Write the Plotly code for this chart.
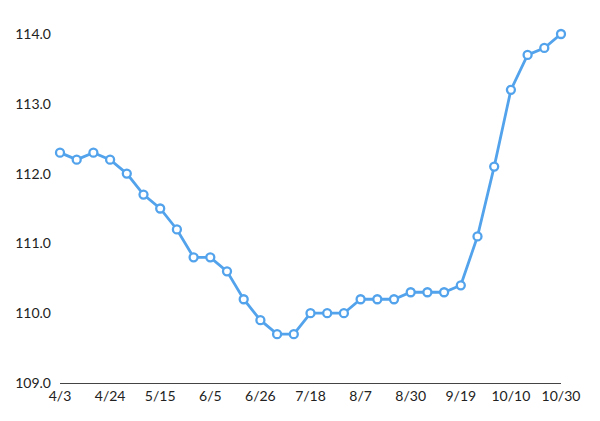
import plotly.graph_objects as go

dates = ["4/3", "4/10", "4/17", "4/24", "5/1", "5/8", "5/15", "5/22", "5/29", "6/5",
         "6/12", "6/19", "6/26", "7/3", "7/10", "7/18", "7/24", "7/31", "8/7", "8/14",
         "8/21", "8/30", "9/5", "9/12", "9/19", "9/26", "10/3", "10/10", "10/17", "10/24", "10/30"]
values = [112.3, 112.2, 112.3, 112.2, 112.0, 111.7, 111.5, 111.2, 110.8, 110.8,
          110.6, 110.2, 109.9, 109.7, 109.7, 110.0, 110.0, 110.0, 110.2, 110.2,
          110.2, 110.3, 110.3, 110.3, 110.4, 111.1, 112.1, 113.2, 113.7, 113.8, 114.0]
tick_labels = ["4/3", "4/24", "5/15", "6/5", "6/26", "7/18", "8/7", "8/30", "9/19", "10/10", "10/30"]
y_ticks = [109.0, 110.0, 111.0, 112.0, 113.0, 114.0]

fig = go.Figure()
fig.add_trace(go.Scatter(
    x=dates, y=values, mode="lines+markers",
    line=dict(color="#52a3ec", width=2.8),
    marker=dict(size=8, color="white", line=dict(color="#52a3ec", width=2.3)),
    cliponaxis=False, hoverinfo="x+y"
))

fig.update_layout(
    width=600, height=421,
    margin=dict(l=52, r=47, t=26, b=46, autoexpand=False),
    paper_bgcolor="white", plot_bgcolor="white",
    showlegend=False,
    font=dict(family="Lato, Open Sans, sans-serif", size=14, color="#222222"),
    xaxis=dict(
        type="category", automargin=False,
        tickmode="array", tickvals=tick_labels, ticktext=tick_labels,
        showgrid=False, zeroline=False,
        showline=True, linecolor="#444444", linewidth=1,
        ticks="", tickfont=dict(size=14, color="#222222"),
        range=[0, len(dates) - 1],
    ),
    yaxis=dict(
        range=[109, 114], automargin=False,
        tickmode="array", tickvals=y_ticks,
        ticktext=[f"{v:.1f}" for v in y_ticks],
        showgrid=False, zeroline=False, showline=False,
        ticks="", ticklabelstandoff=8,
        tickfont=dict(size=14, color="#222222"),
    ),
)

fig.write_html("out.html")
